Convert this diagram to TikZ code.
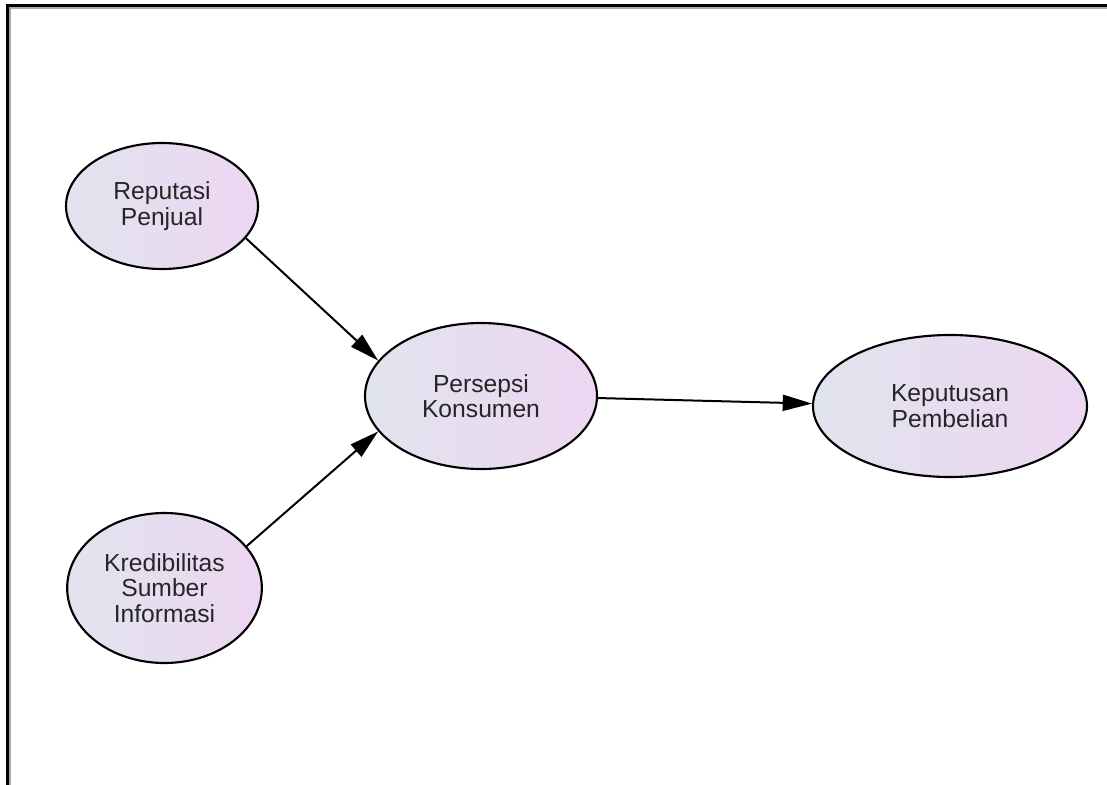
\documentclass[tikz,border=0pt]{standalone}
\usepackage{fontspec}
\setmainfont{Liberation Sans}
\usetikzlibrary{shapes.geometric,arrows.meta}
\definecolor{shadeL}{HTML}{E1E4EE}
\definecolor{shadeR}{HTML}{EDD6F2}
\definecolor{frameGray}{HTML}{A8A8A8}
\tikzset{
  latent/.style={ellipse, draw=black, line width=1.6pt, inner sep=0pt,
    left color=shadeL, right color=shadeR, align=center,
    font=\fontsize{18.5}{19}\selectfont, text=black!85},
  link/.style={draw=black, line width=1.5pt, -{Triangle[length=22pt,width=12pt]}},
  frameline/.style={line width=2pt, line cap=butt},
}
\begin{document}
\begin{tikzpicture}[x=0.75pt,y=-0.75pt]
\useasboundingbox (0,0) rectangle (1107,785);
\fill[white] (0,0) rectangle (1107,785);
% frame (top and left only)
\draw[frameline, frameGray] (9.8,785) -- (9.8,7.8) -- (1107,7.8);
\draw[frameline, black] (7.5,785) -- (7.5,5.5) -- (1107,5.5);
% nodes
\node[latent, minimum width=144pt, minimum height=94.5pt] (rep) at (162,206) {Reputasi\\Penjual};
\node[latent, minimum width=174pt, minimum height=109.5pt] (per) at (481,396) {Persepsi\\Konsumen};
\node[latent, minimum width=205.5pt, minimum height=106.5pt] (kep) at (950,406) {Keputusan\\Pembelian};
\node[latent, minimum width=146pt, minimum height=112.5pt] (kre) at (164.5,588) {Kredibilitas\\Sumber\\Informasi};
% connectors
\draw[link] (rep.-21) -- (per.161);
\draw[link] (kre.27) -- (per.-161);
\draw[link] (per.-1) -- (kep.179);
\end{tikzpicture}
\end{document}
